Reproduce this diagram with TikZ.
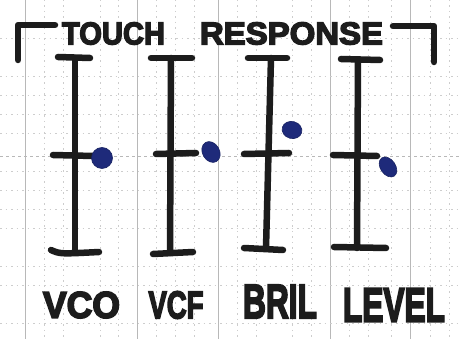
\documentclass[tikz,border=0pt]{standalone}
\usepackage{fontspec}
\setmainfont{Liberation Sans}
\newfontfamily\marker[FakeBold=4.5]{Liberation Sans Bold}
\usepackage{graphicx}
\definecolor{ink}{HTML}{1C1C1C}
\definecolor{blueink}{HTML}{1E2A7A}
\definecolor{gridc}{HTML}{B8B8B8}
\begin{document}
\begin{tikzpicture}[x=1pt,y=-1pt,
  pen/.style={draw=ink,line width=6.5pt,line cap=round,line join=round},
  gridline/.style={draw=gridc,line width=0.9pt},
  griddot/.style={draw=gridc!70,line width=0.7pt,dash pattern=on 1.5pt off 4pt},
  dot/.style={fill=blueink,draw=blueink!80!black,line width=0.6pt},
  lbl/.style={inner sep=0pt,text=ink,anchor=center,font=\marker}]
\useasboundingbox[fill=white] (0,0) rectangle (461,339);
% graph paper
\foreach \x in {25,137,218,330,410} \draw[gridline] (\x,0) -- (\x,339);
\foreach \x in {44,63,100,118,156,175,194,237,256,292,311,349,368,391,430,449} \draw[griddot] (\x,0) -- (\x,339);
\foreach \y in {38,76,95,114,133,171,190,209,228,266,285,323} \draw[griddot] (0,\y) -- (461,\y);
\draw[gridc,line width=0.7pt,dash pattern=on 3pt off 3pt] (0,156) -- (461,156);
% bracket
\draw[pen] (18,60) -- (18,25) -- (55,25);
\draw[pen] (393,26) -- (434,26) -- (434,62);
% title
\node[lbl] (touch) at (113.5,33.5) {\resizebox{103pt}{22pt}{TOUCH}};
\node[lbl] (response) at (291.5,33.5) {\resizebox{183pt}{22pt}{RESPONSE}};
% slider 1
\draw[pen] (58,57) -- (90,58);
\draw[pen] (75,58) -- (75,251);
\draw[pen] (53,155) -- (93,156);
\draw[pen] (51,250) .. controls (60,254) .. (99,252);
\fill[dot] (102,158) ellipse (10.5pt and 10.5pt);
% slider 2
\draw[pen] (151,58) -- (192,58);
\draw[pen] (171,58) -- (170,253);
\draw[pen] (156,154) -- (196,153);
\draw[pen] (153,254) -- (193,252);
\fill[dot,rotate around={-60:(211,152)}] (211,152) ellipse (11pt and 8.5pt);
% slider 3
\draw[pen] (248,58) -- (287,58);
\draw[pen] (271,58) -- (266,248);
\draw[pen] (244,154) -- (289,153);
\draw[pen] (244,248) -- (283,250);
\fill[dot,rotate around={-15:(292,130)}] (292,130) ellipse (10pt and 8.5pt);
% slider 4
\draw[pen] (341,59) -- (380,60);
\draw[pen] (358,60) -- (357,248);
\draw[pen] (333,155) -- (377,156);
\draw[pen] (334,247) -- (386,248);
\fill[dot,rotate around={-55:(388,167)}] (388,167) ellipse (11pt and 7.5pt);
% labels
\node[lbl] (vco) at (81.5,305) {\resizebox{77pt}{26pt}{VCO}};
\node[lbl] (vcf) at (176,305) {\resizebox{55pt}{27pt}{VCF}};
\node[lbl] (bril) at (280,301.5) {\resizebox{74pt}{33pt}{BRIL}};
\node[lbl] (level) at (394,305) {\resizebox{102pt}{33pt}{LEVEL}};
\end{tikzpicture}
\end{document}
